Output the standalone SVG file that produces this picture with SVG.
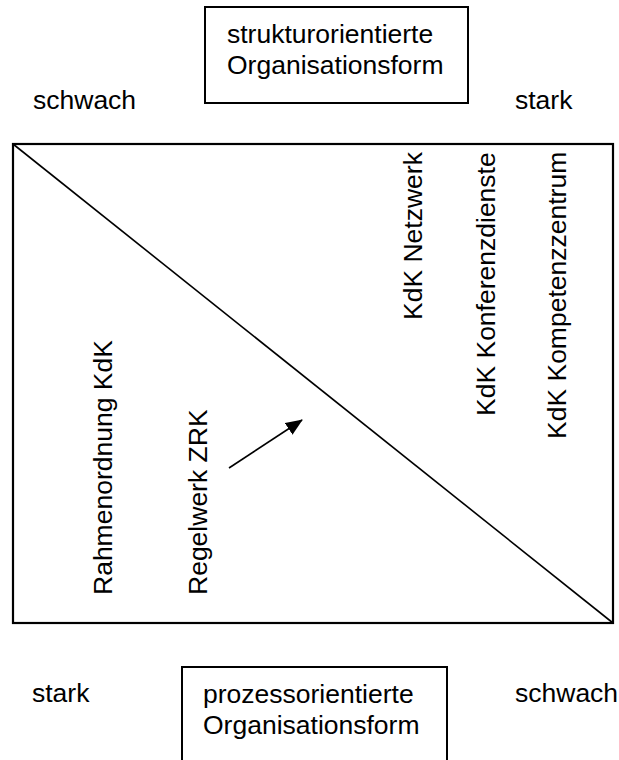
<svg xmlns="http://www.w3.org/2000/svg" width="619" height="760" viewBox="0 0 619 760">
  <style>
    text { font-family: "Liberation Sans", Arial, sans-serif; font-size: 26.5px; fill: #000; }
    .box { fill: #fff; stroke: #000; stroke-width: 2; }
    .frame { fill: none; stroke: #000; stroke-width: 2.2; }
    .diag { stroke: #000; stroke-width: 1.6; }
    .conn { stroke: #000; stroke-width: 1.6; fill: none; }
  </style>
  <defs>
    <marker id="arrowhead" markerUnits="userSpaceOnUse" markerWidth="18" markerHeight="14" refX="16" refY="7" orient="auto">
      <path d="M0,0 L17,7 L0,14 Z" fill="#000"/>
    </marker>
  </defs>

  <rect width="619" height="760" fill="#fff"/>

  <!-- top: structure-oriented form -->
  <g id="struktur">
    <rect class="box" x="205" y="7" width="263" height="96"/>
    <text x="227" y="43">strukturorientierte</text>
    <text x="227" y="74">Organisationsform</text>
  </g>
  <g id="top-schwach"><text x="33" y="109">schwach</text></g>
  <g id="top-stark"><text x="515" y="109">stark</text></g>

  <!-- matrix frame with diagonal -->
  <g id="matrix">
    <rect class="frame" x="13" y="144" width="600" height="479"/>
    <line class="diag" x1="13" y1="144" x2="613" y2="623"/>
  </g>

  <!-- vertical labels, right half -->
  <g id="netzwerk"><text transform="translate(422,320) rotate(-90)">KdK Netzwerk</text></g>
  <g id="konferenzdienste"><text transform="translate(495,416) rotate(-90)">KdK Konferenzdienste</text></g>
  <g id="kompetenzzentrum"><text transform="translate(566,439) rotate(-90)">KdK Kompetenzzentrum</text></g>

  <!-- vertical labels, left half -->
  <g id="rahmenordnung"><text transform="translate(112,595) rotate(-90)">Rahmenordnung KdK</text></g>
  <g id="regelwerk"><text transform="translate(207,595) rotate(-90)">Regelwerk ZRK</text></g>

  <!-- connectors -->
  <g id="connectors">
    <line class="conn" x1="229" y1="468" x2="302" y2="420" marker-end="url(#arrowhead)"/>
  </g>

  <!-- bottom: process-oriented form -->
  <g id="prozess">
    <rect class="box" x="182" y="667" width="265" height="110"/>
    <text x="203" y="703">prozessorientierte</text>
    <text x="203" y="734">Organisationsform</text>
  </g>
  <g id="bottom-stark"><text x="32" y="702">stark</text></g>
  <g id="bottom-schwach"><text x="515" y="702">schwach</text></g>
</svg>
